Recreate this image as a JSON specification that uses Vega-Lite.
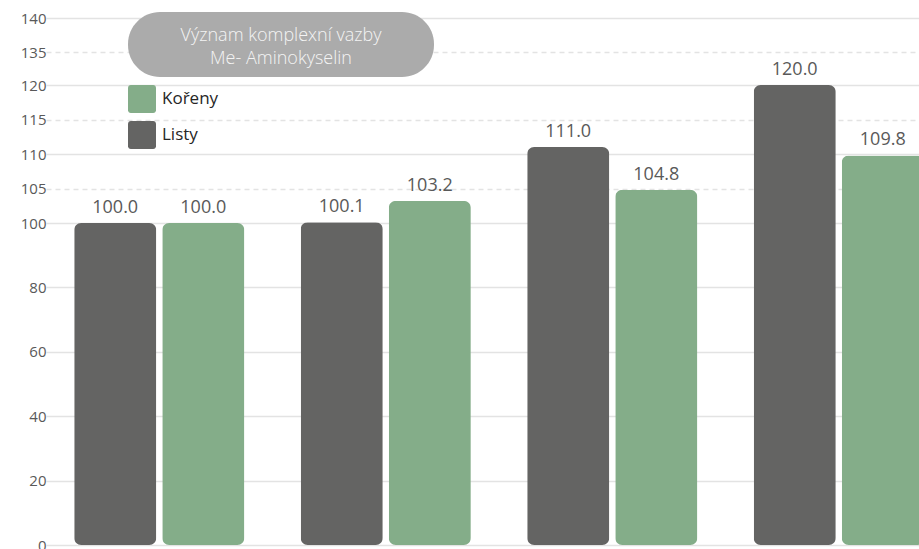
{
  "$schema": "https://vega.github.io/schema/vega-lite/v6.json",
  "autosize": {"type": "none"},
  "padding": {"left": 59, "top": 18, "right": 0, "bottom": 4},
  "width": 860,
  "height": 527,
  "background": "white",
  "config": {"view": {"stroke": null}, "font": "Open Sans"},
  "data": {
    "values": [
      {"skupina": "1", "organ": "Listy", "hodnota": 100.0},
      {"skupina": "1", "organ": "Kořeny", "hodnota": 100.0},
      {"skupina": "2", "organ": "Listy", "hodnota": 100.1},
      {"skupina": "2", "organ": "Kořeny", "hodnota": 103.2},
      {"skupina": "3", "organ": "Listy", "hodnota": 111.0},
      {"skupina": "3", "organ": "Kořeny", "hodnota": 104.8},
      {"skupina": "4", "organ": "Listy", "hodnota": 120.0},
      {"skupina": "4", "organ": "Kořeny", "hodnota": 109.8}
    ]
  },
  "encoding": {
    "x": {
      "field": "skupina",
      "type": "nominal",
      "axis": null,
      "scale": {"range": [-13, 893], "paddingInner": 0, "paddingOuter": 0}
    },
    "xOffset": {
      "field": "organ",
      "type": "nominal",
      "sort": ["Listy", "Kořeny"],
      "scale": {"paddingInner": 0.068, "paddingOuter": 0.32}
    },
    "y": {
      "field": "hodnota",
      "type": "quantitative",
      "scale": {
        "domain": [0, 100, 120, 135, 140],
        "range": [527, 205, 67, 34, 0],
        "nice": false,
        "zero": false
      },
      "axis": {
        "title": null,
        "values": [0, 20, 40, 60, 80, 100, 105, 110, 115, 120, 135, 140],
        "domain": false,
        "ticks": false,
        "labelFont": "Open Sans",
        "labelFontSize": 15,
        "labelColor": "#595959",
        "labelPadding": 13,
        "gridColor": "#e3e3e3",
        "gridWidth": 1.3,
        "gridDash": {
          "condition": {"test": "indexof([105, 115, 135], datum.value) >= 0", "value": [5, 4]},
          "value": []
        }
      }
    }
  },
  "layer": [
    {
      "mark": {"type": "bar", "cornerRadius": 7},
      "encoding": {
        "color": {
          "field": "organ",
          "type": "nominal",
          "scale": {"domain": ["Kořeny", "Listy"], "range": ["#84AD89", "#646463"]},
          "legend": {
            "orient": "none",
            "legendX": 69,
            "legendY": 67,
            "title": null,
            "padding": 0,
            "symbolType": "M -0.8,-1 H 0.8 A 0.2 0.2 0 0 1 1 -0.8 V 0.8 A 0.2 0.2 0 0 1 0.8 1 H -0.8 A 0.2 0.2 0 0 1 -1 0.8 V -0.8 A 0.2 0.2 0 0 1 -0.8 -1 Z",
            "symbolSize": 784,
            "symbolStrokeWidth": 0,
            "labelFont": "Open Sans",
            "labelFontSize": 17,
            "labelColor": "#262626",
            "labelOffset": 6,
            "rowPadding": 7
          }
        },
        "strokeDash": {
          "datum": "Význam",
          "legend": {
            "orient": "none",
            "legendX": 69,
            "legendY": -6,
            "title": ["Význam komplexní vazby", "Me- Aminokyselin"],
            "titleFont": "Open Sans",
            "titleFontSize": 18,
            "titleFontWeight": 300,
            "titleColor": "#f4f4f4",
            "titleAlign": "center",
            "titleAnchor": "middle",
            "titleOrient": "bottom",
            "titleLimit": 400,
            "titleLineHeight": 23,
            "titlePadding": 5,
            "fillColor": "#ababab",
            "cornerRadius": 32,
            "padding": 9,
            "symbolSize": 0,
            "symbolOpacity": 0,
            "symbolStrokeWidth": 0,
            "symbolOffset": 287,
            "labelExpr": "''",
            "labelFontSize": 1,
            "labelOffset": 0
          }
        }
      }
    },
    {
      "mark": {
        "type": "text",
        "baseline": "bottom",
        "dy": -6,
        "font": "Open Sans",
        "fontSize": 18,
        "color": "#595959"
      },
      "encoding": {
        "text": {"field": "hodnota", "type": "quantitative", "format": ".1f"}
      }
    }
  ]
}
